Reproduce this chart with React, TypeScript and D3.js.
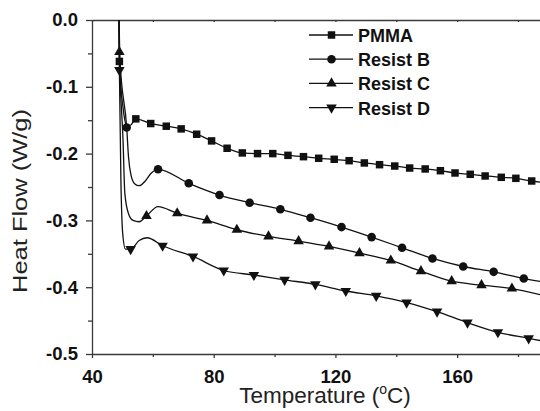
import React, { useEffect, useRef } from 'react';
import * as d3 from 'd3';

// axis ticks
const TEMP_MAJOR = [40, 80, 120, 160];
const TEMP_MINOR = [60, 100, 140, 180];
const HF_MAJOR = [0, -0.1, -0.2, -0.3, -0.4, -0.5];
const HF_MINOR = [-0.05, -0.15, -0.25, -0.35, -0.45];

// marked points [temperature, heat flow]
const pmmaMarks: [number, number][] = [
  [49, -0.062], [54.4, -0.148], [59.3, -0.155], [64.4, -0.159], [69.3, -0.163],
  [74.4, -0.171], [79.3, -0.181], [84.4, -0.192], [89.4, -0.199], [94.4, -0.2],
  [99.4, -0.2], [104.4, -0.2026], [109.5, -0.2046], [114.5, -0.207], [119.6, -0.2085],
  [124.5, -0.2106], [129.5, -0.214], [134.5, -0.2166], [139.5, -0.2186], [144.4, -0.2216],
  [149.5, -0.223], [154.5, -0.2256], [159.3, -0.229], [164.3, -0.231], [169.2, -0.2335],
  [174.5, -0.2355], [179.3, -0.237], [184.5, -0.241],
];
const resistBMarks: [number, number][] = [
  [51.4, -0.161], [61.7, -0.2235], [71.8, -0.2445], [81.9, -0.262], [91.8, -0.2735],
  [101.9, -0.2834], [111.8, -0.296], [122, -0.31], [131.9, -0.325], [141.9, -0.341],
  [151.9, -0.357], [162, -0.369], [172, -0.377], [181.9, -0.387],
];
const resistCMarks: [number, number][] = [
  [49, -0.048], [57.9, -0.2934], [68, -0.2894], [77.8, -0.3], [87.6, -0.314],
  [98, -0.324], [107.9, -0.331], [117.9, -0.339], [127.9, -0.349], [138.2, -0.36],
  [148.1, -0.376], [158.2, -0.391], [168, -0.397], [178, -0.402],
];
const resistDMarks: [number, number][] = [
  [49, -0.075], [52.7, -0.343], [63.2, -0.338], [73.2, -0.354], [83.3, -0.375],
  [93.2, -0.3817], [103.3, -0.389], [113.4, -0.3957], [123.4, -0.4057], [133.4, -0.413],
  [143.4, -0.423], [153.4, -0.4366], [163.4, -0.453], [173.4, -0.4675], [183.5, -0.4765],
];

// unmarked points of the traces (start, dips, peaks, ends)
const pmmaExtra: [number, number][] = [[48.8, 0.03], [50.3, -0.135], [51.6, -0.16], [52.8, -0.157], [188, -0.243]];
const resistBExtra: [number, number][] = [
  [48.8, 0.03], [49.2, -0.06], [52, -0.205], [52.8, -0.232], [54, -0.245], [55.5, -0.248],
  [57.5, -0.241], [59.5, -0.229], [188, -0.392],
];
const resistCExtra: [number, number][] = [
  [48.8, 0.03], [50.2, -0.18], [50.8, -0.26], [52, -0.29], [53.5, -0.3], [55.5, -0.302],
  [61.7, -0.2794], [188, -0.412],
];
const resistDExtra: [number, number][] = [
  [48.8, 0.03], [49.5, -0.24], [50.1, -0.32], [51, -0.343], [55.5, -0.33], [58.1, -0.326],
  [188, -0.4805],
];

const SERIES = [
  { name: 'PMMA', marks: pmmaMarks, extra: pmmaExtra, symbol: d3.symbolSquare, size: 56, rot: 0 },
  { name: 'Resist B', marks: resistBMarks, extra: resistBExtra, symbol: d3.symbolCircle, size: 58, rot: 0 },
  { name: 'Resist C', marks: resistCMarks, extra: resistCExtra, symbol: d3.symbolTriangle, size: 48, rot: 0 },
  { name: 'Resist D', marks: resistDMarks, extra: resistDExtra, symbol: d3.symbolTriangle, size: 48, rot: 180 },
];

const FONT = '"Liberation Sans", Arial, Helvetica, sans-serif';

export default function App() {
  const svgRef = useRef<SVGSVGElement>(null);

  useEffect(() => {
    const svgEl = svgRef.current;
    if (!svgEl) return;
    const svg = d3.select(svgEl);
    svg.selectAll('*').remove();

    const left = 92;
    const right = 540;
    const top = 20;
    const bottom = 354;
    const axisColor = '#3a3a3a';

    const x = d3.scaleLinear().domain([40, 187.23]).range([left, right]);
    const y = d3.scaleLinear().domain([-0.5, 0]).range([bottom, top]);

    svg.append('rect').attr('width', 540).attr('height', 411).attr('fill', '#fff');

    svg
      .append('defs')
      .append('clipPath')
      .attr('id', 'plot-clip')
      .append('rect')
      .attr('x', left)
      .attr('y', top)
      .attr('width', right - left)
      .attr('height', bottom - top);

    const styleAxis = (g: any) => {
      g.attr('font-family', FONT).attr('font-size', 18.5).attr('font-weight', 'bold');
      g.selectAll('.domain').attr('stroke', axisColor).attr('stroke-width', 1.3);
      g.selectAll('.tick line').attr('stroke', axisColor).attr('stroke-width', 1.3);
      g.selectAll('.tick text').attr('fill', '#111');
    };

    // top frame
    svg
      .append('g')
      .attr('transform', `translate(0,${top})`)
      .call(d3.axisTop(x).tickValues([...TEMP_MAJOR, ...TEMP_MINOR]).tickSize(-2).tickSizeOuter(0).tickFormat(() => ''))
      .call(styleAxis);

    // left axis
    svg
      .append('g')
      .attr('transform', `translate(${left},0)`)
      .call(
        d3
          .axisLeft(y)
          .tickValues(HF_MAJOR)
          .tickSize(6)
          .tickSizeOuter(0)
          .tickPadding(8)
          .tickFormat((d: any) => (+d).toFixed(1))
      )
      .call(styleAxis);
    svg
      .append('g')
      .attr('transform', `translate(${left},0)`)
      .call(d3.axisLeft(y).tickValues(HF_MINOR).tickSize(4).tickFormat(() => ''))
      .call(styleAxis)
      .call((g: any) => g.select('.domain').remove());

    // bottom axis
    svg
      .append('g')
      .attr('transform', `translate(0,${bottom})`)
      .call(d3.axisBottom(x).tickValues(TEMP_MAJOR).tickSize(4).tickSizeOuter(0).tickPadding(12).tickFormat((d: any) => String(d)))
      .call(styleAxis);
    svg
      .append('g')
      .attr('transform', `translate(0,${bottom})`)
      .call(d3.axisBottom(x).tickValues(TEMP_MINOR).tickSize(3).tickFormat(() => ''))
      .call(styleAxis)
      .call((g: any) => g.select('.domain').remove());

    // traces
    const line = d3
      .line<[number, number]>()
      .x(d => x(d[0]))
      .y(d => y(d[1]))
      .curve(d3.curveMonotoneX);

    const plot = svg.append('g').attr('clip-path', 'url(#plot-clip)');

    SERIES.forEach(s => {
      const pts = [...s.marks, ...s.extra].sort((a, b) => a[0] - b[0]);
      plot
        .append('path')
        .attr('d', line(pts))
        .attr('fill', 'none')
        .attr('stroke', '#111')
        .attr('stroke-width', 1.3);
    });

    SERIES.forEach(s => {
      const sym = d3.symbol().type(s.symbol).size(s.size);
      plot
        .append('g')
        .selectAll('path')
        .data(s.marks)
        .enter()
        .append('path')
        .attr('d', sym() as string)
        .attr('transform', d => `translate(${x(d[0])},${y(d[1])}) rotate(${s.rot})`)
        .attr('fill', '#111');
    });

    // legend
    const legend = svg.append('g');
    SERIES.forEach((s, i) => {
      const base = 42 + i * 24.2;
      const cy = base - 7;
      legend
        .append('line')
        .attr('x1', 309)
        .attr('x2', 353)
        .attr('y1', cy)
        .attr('y2', cy)
        .attr('stroke', '#111')
        .attr('stroke-width', 1.3);
      legend
        .append('path')
        .attr('d', d3.symbol().type(s.symbol).size(s.size)() as string)
        .attr('transform', `translate(331.5,${cy}) rotate(${s.rot})`)
        .attr('fill', '#111');
      legend
        .append('text')
        .attr('x', 358)
        .attr('y', base)
        .attr('font-family', FONT)
        .attr('font-size', 18)
        .attr('font-weight', 'bold')
        .attr('fill', '#111')
        .text(s.name);
    });

    // axis titles
    const xt = svg
      .append('text')
      .attr('x', 325)
      .attr('y', 403)
      .attr('text-anchor', 'middle')
      .attr('font-family', FONT)
      .attr('font-size', 22.5)
      .attr('fill', '#222');
    xt.append('tspan').text('Temperature (');
    xt.append('tspan').attr('font-size', 14).attr('dy', -9).text('o');
    xt.append('tspan').attr('dy', 9).text('C)');

    svg
      .append('text')
      .attr('transform', `translate(27,201) rotate(-90)`)
      .attr('text-anchor', 'middle')
      .attr('font-family', FONT)
      .attr('font-size', 21)
      .attr('textLength', 184)
      .attr('lengthAdjust', 'spacingAndGlyphs')
      .attr('fill', '#222')
      .text('Heat Flow (W/g)');
  }, []);

  return (
    <svg
      ref={svgRef}
      width={540}
      height={411}
      style={{ position: 'absolute', left: 0, top: 0, display: 'block' }}
    />
  );
}
